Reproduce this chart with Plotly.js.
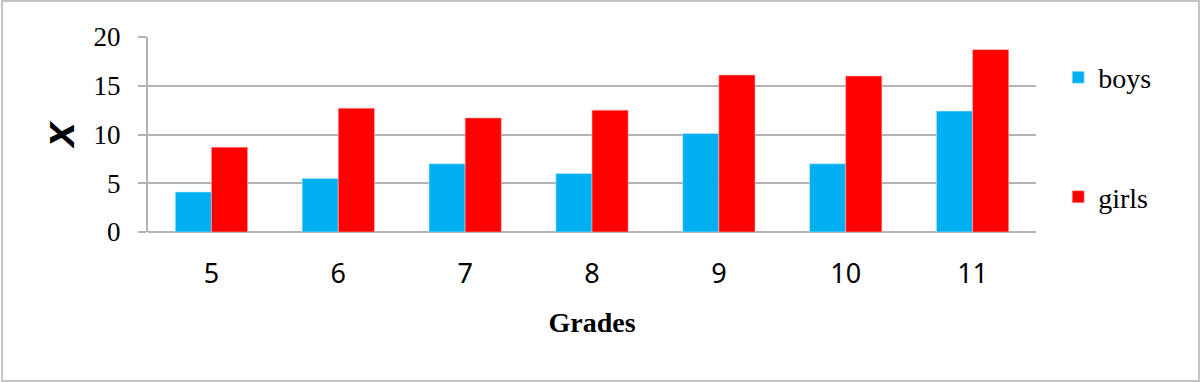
<!DOCTYPE html>
<html>
<head>
<meta charset="utf-8">
<script src="https://cdn.plot.ly/plotly-3.0.1.min.js"></script>
<style>
html,body{margin:0;padding:0;background:#fff;}
#wrap{position:relative;width:1200px;height:382px;}
#chart{width:1200px;height:382px;}
#frame{position:absolute;left:1px;top:0px;width:1195px;height:378px;border:2px solid #c4c4c4;pointer-events:none;}
</style>
</head>
<body>
<div id="wrap"><div id="chart"></div><div id="frame"></div></div>
<script>
const grades = ['5','6','7','8','9','10','11'];
const boys = [4.1, 5.5, 7.0, 6.0, 10.1, 7.0, 12.4];
const girls = [8.7, 12.7, 11.7, 12.5, 16.1, 16.0, 18.7];
const seriesNames = ['boys','girls'];
const yTicks = [0,5,10,15,20];

const traces = [
  {type:'bar', name:seriesNames[0], x:grades, y:boys, legendgroup:'a',
   marker:{color:'#00B0F0', line:{color:'#bfeaff', width:0.6}}},
  {type:'bar', name:seriesNames[1], x:grades, y:girls, legendgroup:'b',
   marker:{color:'#FF0000', line:{color:'#ffb0b0', width:0.6}}}
];

const layout = {
  width:1200, height:382,
  margin:{l:148, r:164, t:37, b:150, pad:0},
  paper_bgcolor:'#fff', plot_bgcolor:'#fff',
  barmode:'group', bargap:0.43, bargroupgap:0,
  showlegend:true,
  legend:{x:1.025, xanchor:'left', y:0.92, yanchor:'top',
    font:{family:'Liberation Serif, Times New Roman, serif', size:28, color:'#000'},
    traceorder:'grouped', tracegroupgap:80, itemwidth:30},
  xaxis:{type:'category', tickvals:grades, ticktext:grades,
    tickfont:{family:'Noto Sans, sans-serif', size:27, color:'#000'},
    showgrid:false, showline:false, ticks:'', ticklabelstandoff:23,
    title:{text:'<b>Grades</b>', font:{family:'Liberation Serif, Times New Roman, serif', size:28, color:'#000'}, standoff:22},
    automargin:false, fixedrange:true},
  yaxis:{range:[0,20], tickvals:yTicks, ticktext:yTicks.map(String),
    tickfont:{family:'Liberation Serif, Times New Roman, serif', size:27, color:'#000'},
    showgrid:true, gridcolor:'#b3b3b3', gridwidth:2,
    showline:true, linecolor:'#b3b3b3', linewidth:2,
    zeroline:true, zerolinecolor:'#b3b3b3', zerolinewidth:2,
    ticks:'outside', ticklen:8, tickwidth:2, tickcolor:'#b3b3b3', ticklabelstandoff:12,
    title:{text:'<b><i>x</i></b>', font:{family:'Liberation Sans, Arial, sans-serif', size:44, color:'#000'}, standoff:5},
    automargin:false, fixedrange:true}
};

Plotly.newPlot('chart', traces, layout, {displayModeBar:false, staticPlot:true});
</script>
</body>
</html>
